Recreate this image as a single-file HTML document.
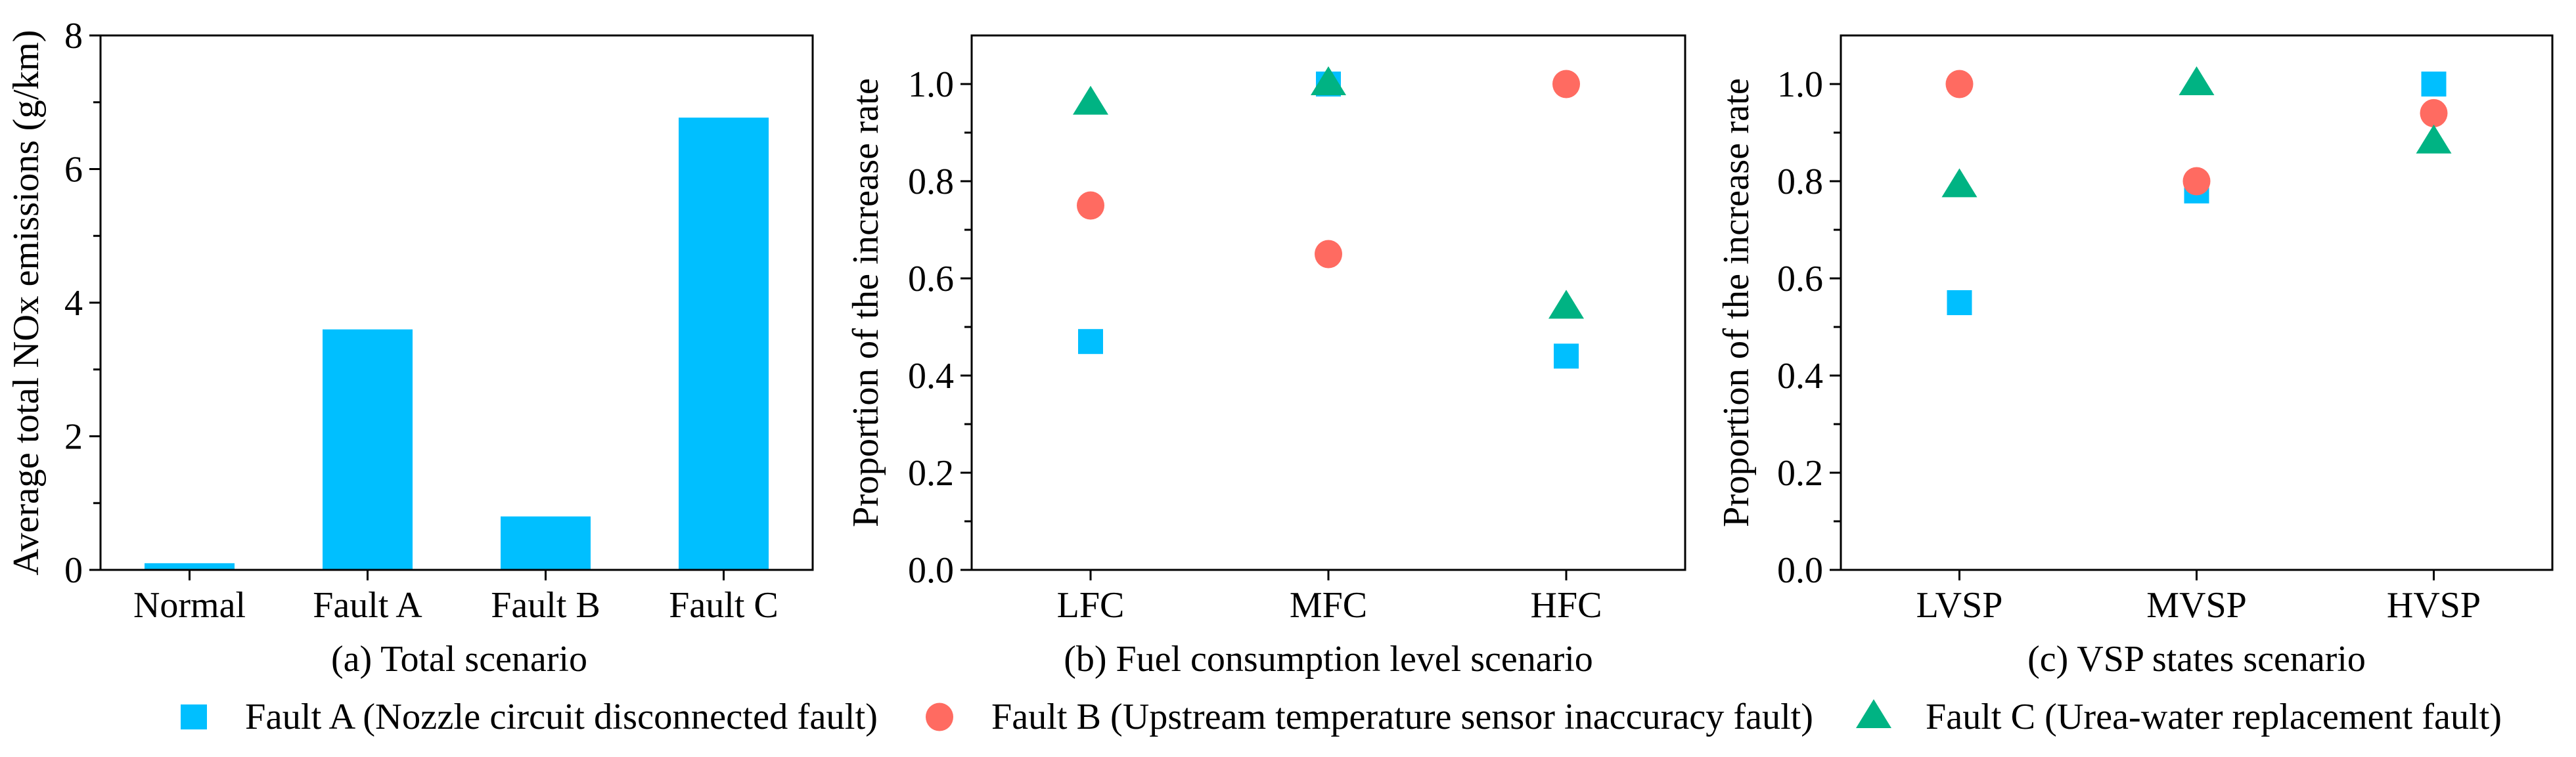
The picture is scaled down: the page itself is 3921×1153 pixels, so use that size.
<!DOCTYPE html>
<html><head><meta charset="utf-8"><style>
html,body{margin:0;padding:0;background:#fff;}
svg{display:block;font-family:"Liberation Serif",serif;}
</style></head><body>
<svg id="fig" width="3921" height="1153" viewBox="0 0 3921 1153" xmlns="http://www.w3.org/2000/svg">
<rect width="3921" height="1153" fill="#fff"/>
<g id="layer"></g>
</svg>
<script>
const NS="http://www.w3.org/2000/svg";
const C_BLUE="#00BFFF", C_RED="#FF6B61", C_GREEN="#00B383";
// Panel (a) data
const aCategories=["Normal","Fault A","Fault B","Fault C"];
const aValues=[0.1,3.6,0.8,6.77];
const aTicks=[0,2,4,6,8];
// Panel (b) data
const bCategories=["LFC","MFC","HFC"];
const bFaultA=[0.47,1.0,0.44];
const bFaultB=[0.75,0.65,1.0];
const bFaultC=[0.96,1.0,0.54];
// Panel (c) data
const cCategories=["LVSP","MVSP","HVSP"];
const cFaultA=[0.55,0.78,1.0];
const cFaultB=[1.0,0.8,0.94];
const cFaultC=[0.79,1.0,0.88];
const propTicks=[0.0,0.2,0.4,0.6,0.8,1.0];

const root=document.getElementById('layer');
function el(tag,attrs,parent,text){const e=document.createElementNS(NS,tag);for(const k in attrs)e.setAttribute(k,attrs[k]);if(text!==undefined)e.textContent=text;(parent||root).appendChild(e);return e;}

const TOP=54, BOT=868, FS=56;
function panel(name,L,R,yMax,ticks,minorStep,cats,yLabel,title,tickFmt,labelX,labelLen){
  const g=el('g',{});
  
  
  const y=v=>BOT-(v/yMax)*(BOT-TOP);
  const step=(R-L)/cats.length;
  const x=i=>L+step*(i+0.5);
  // minor ticks
  for(let v=minorStep; v<yMax-1e-9; v+=minorStep*2){
    const t=el('line',{x1:L-11,x2:L,y1:y(v),y2:y(v),stroke:'#000','stroke-width':3},g);
    
    
  }
  ticks.forEach(v=>{
    const t=el('line',{x1:L-17,x2:L,y1:y(v),y2:y(v),stroke:'#000','stroke-width':3},g);
    
    
    const lb=el('text',{x:L-27,y:y(v)+19,'text-anchor':'end','font-size':FS},g,tickFmt(v));
    
    
  });
  cats.forEach((c,i)=>{
    const t=el('line',{x1:x(i),x2:x(i),y1:BOT,y2:BOT+16,stroke:'#000','stroke-width':3},g);
    
    
    const lb=el('text',{x:x(i),y:940,'text-anchor':'middle','font-size':FS},g,c);
    
    
  });
  const yl=el('text',{transform:`translate(${labelX},461) rotate(-90)`,'text-anchor':'middle','font-size':FS,textLength:labelLen,lengthAdjust:'spacingAndGlyphs'},g,yLabel);
  
  
  const tt=el('text',{x:(L+R)/2+(name==='panel-a'?4:0),y:1022,'text-anchor':'middle','font-size':FS},g,title);
  
  
  return {g,x,y,L,R};
}
function frame(p){
  const f=el('rect',{x:p.L,y:TOP,width:p.R-p.L,height:BOT-TOP,fill:'none',stroke:'#000','stroke-width':3},p.g);
  
  
}
function square(p,cx,cy,parent){const s=38;const r=el('rect',{x:cx-s/2,y:cy-s/2,width:s,height:s,fill:C_BLUE},parent);return r;}
function circle(p,cx,cy,parent){return el('ellipse',{cx:cx,cy:cy,rx:21,ry:21.5,fill:C_RED},parent);}
function tri(p,cx,cy,parent){return el('polygon',{points:`${cx},${cy-27} ${cx-27},${cy+17} ${cx+27},${cy+17}`,fill:C_GREEN},parent);}

// Panel a
const pa=panel('panel-a',153,1237,8,aTicks,1,aCategories,'Average total NOx emissions (g/km)','(a) Total scenario',v=>String(v),58,831);
aValues.forEach((v,i)=>{
  const b=el('rect',{x:pa.x(i)-68.5,y:pa.y(v),width:137,height:BOT-pa.y(v),fill:C_BLUE},pa.g);
  
  
});
frame(pa);

function scatterPanel(name,L,R,cats,A,B,C,title,labelX){
  const p=panel(name,L,R,1.1,propTicks,0.1,cats,'Proportion of the increase rate',title,v=>v.toFixed(1),labelX,684);
  A.forEach((v,i)=>{const m=square(p,p.x(i),p.y(v),p.g);
    
    });
  B.forEach((v,i)=>{const m=circle(p,p.x(i),p.y(v),p.g);
    
    });
  C.forEach((v,i)=>{const m=tri(p,p.x(i),p.y(v),p.g);
    
    });
  frame(p);
}
scatterPanel('panel-b',1479,2565,bCategories,bFaultA,bFaultB,bFaultC,'(b) Fuel consumption level scenario',1336);
scatterPanel('panel-c',2802,3885,cCategories,cFaultA,cFaultB,cFaultC,'(c) VSP states scenario',2661);

// Legend
const lg=el('g',{});


const LY=1092, LB=1110;
const e1=el('g',{},lg);


el('rect',{x:275,y:LY-19,width:40,height:38,fill:C_BLUE},e1);
el('text',{x:373,y:LB,'font-size':FS,textLength:963,lengthAdjust:'spacingAndGlyphs'},e1,'Fault A (Nozzle circuit disconnected fault)');
const e2=el('g',{},lg);


el('ellipse',{cx:1430,cy:LY,rx:21,ry:21.5,fill:C_RED},e2);
el('text',{x:1509,y:LB,'font-size':FS,textLength:1251,lengthAdjust:'spacingAndGlyphs'},e2,'Fault B (Upstream temperature sensor inaccuracy fault)');
const e3=el('g',{},lg);


el('polygon',{points:`2852,${LY-27} 2825,${LY+17} 2879,${LY+17}`,fill:C_GREEN},e3);
el('text',{x:2931,y:LB,'font-size':FS,textLength:877,lengthAdjust:'spacingAndGlyphs'},e3,'Fault C (Urea-water replacement fault)');
</script>
</body></html>
